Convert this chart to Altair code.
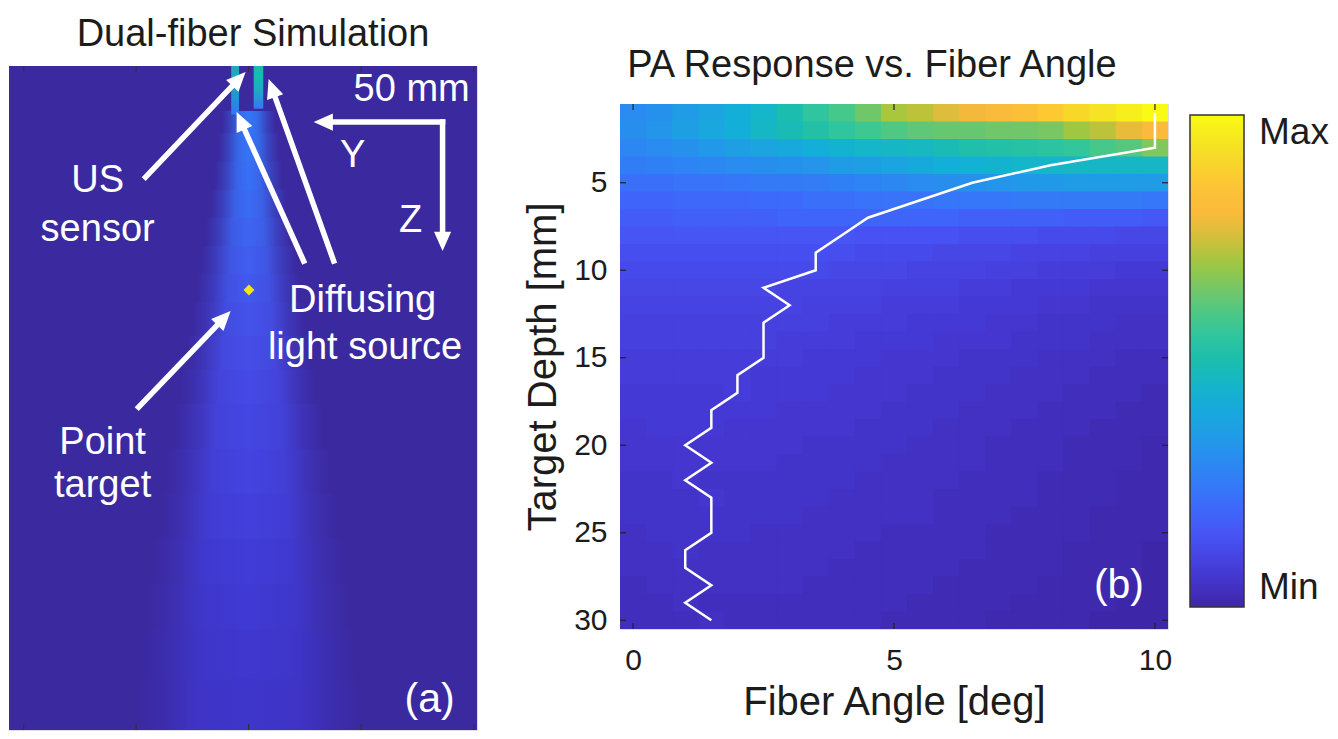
import math
import altair as alt
import pandas as pd

FONT = "Liberation Sans"
INK = "#1c1c1c"

# ---------------- panel (b): PA response vs fiber angle ----------------
fiber_angle_deg = [0, 0.5, 1, 1.5, 2, 2.5, 3, 3.5, 4, 4.5, 5, 5.5, 6, 6.5, 7, 7.5, 8, 8.5, 9, 9.5, 10]
target_depth_mm = list(range(1, 31))

# relative PA amplitude (% of max), one row per target depth, one value per fiber angle
pa_d01 = [30, 32, 35, 38, 42, 45, 50, 55, 59, 64, 71, 73, 76, 78, 80, 83, 87, 91, 94, 97, 100]
pa_d02 = [31, 33, 36, 39, 42, 46, 49, 52, 55, 58, 60, 62, 63, 63, 64, 64, 65, 70, 73, 77, 80]
pa_d03 = [29, 30, 32, 34, 36, 38, 40, 42, 44, 45, 46, 47, 49, 51, 52, 53, 54, 56, 59, 61, 66]
pa_d04 = [26, 27, 28, 29, 30, 31, 32, 33, 35, 36, 38, 40, 42, 43, 44, 45, 45, 46, 46, 46, 46]
pa_d05 = [22, 22, 23, 23, 24, 25, 25, 26, 27, 28, 29, 30, 31, 32, 33, 34, 34, 35, 35, 35, 35]
pa_d06 = [19, 19, 20, 20, 20, 21, 21, 22, 22, 23, 23, 23, 24, 24, 24, 25, 25, 25, 25, 25, 24]
pa_d07 = [17, 17, 18, 18, 18, 18, 19, 19, 19, 19, 19, 19, 19, 18, 18, 18, 18, 17, 17, 17, 16]
pa_d08 = [15, 15, 15, 15, 15, 15, 15, 15, 15, 14, 14, 14, 14, 13, 13, 13, 12, 12, 12, 11, 11]
pa_d09 = [13, 13, 13, 13, 13, 13, 13, 13, 13, 12, 12, 12, 11, 11, 11, 10, 10, 10, 9, 9, 9]
pa_d10 = [12, 12, 12, 12, 12, 12, 12, 12, 11, 11, 11, 10, 10, 10, 9, 9, 8, 8, 8, 7, 7]
pa_d11 = [11, 11, 11, 11, 11, 11, 10, 10, 10, 10, 9, 9, 9, 8, 8, 7, 7, 7, 6, 6, 6]
pa_d12 = [10, 10, 10, 10, 10, 10, 10, 9, 9, 9, 8, 8, 8, 7, 7, 7, 6, 6, 5, 5, 5]
pa_d13 = [9, 9, 9, 9, 9, 9, 9, 9, 8, 8, 8, 7, 7, 7, 6, 6, 5, 5, 5, 4, 4]
pa_d14 = [9, 9, 9, 9, 9, 9, 8, 8, 8, 7, 7, 7, 6, 6, 6, 5, 5, 5, 4, 4, 4]
pa_d15 = [8, 8, 8, 8, 8, 8, 8, 7, 7, 7, 6, 6, 6, 5, 5, 5, 4, 4, 4, 3, 3]
pa_d16 = [8, 8, 8, 8, 8, 7, 7, 7, 7, 6, 6, 6, 5, 5, 5, 4, 4, 4, 3, 3, 3]
pa_d17 = [7, 7, 7, 7, 8, 7, 7, 7, 6, 6, 6, 5, 5, 5, 4, 4, 4, 3, 3, 3, 2]
pa_d18 = [7, 7, 7, 7, 7, 7, 6, 6, 6, 6, 5, 5, 5, 4, 4, 4, 3, 3, 3, 2, 2]
pa_d19 = [6, 7, 7, 7, 6, 6, 6, 6, 6, 5, 5, 5, 4, 4, 4, 3, 3, 3, 2, 2, 2]
pa_d20 = [6, 6, 6, 6, 6, 6, 6, 5, 5, 5, 5, 4, 4, 4, 3, 3, 3, 2, 2, 2, 1]
pa_d21 = [6, 6, 6, 6, 6, 6, 5, 5, 5, 5, 4, 4, 4, 4, 3, 3, 3, 2, 2, 2, 1]
pa_d22 = [5, 5, 6, 5, 5, 5, 5, 5, 5, 4, 4, 4, 4, 3, 3, 3, 2, 2, 2, 1, 1]
pa_d23 = [5, 5, 5, 6, 5, 5, 5, 5, 4, 4, 4, 4, 3, 3, 3, 3, 2, 2, 2, 1, 1]
pa_d24 = [5, 5, 5, 5, 5, 5, 5, 4, 4, 4, 4, 4, 3, 3, 3, 2, 2, 2, 1, 1, 1]
pa_d25 = [4, 5, 5, 5, 5, 4, 4, 4, 4, 4, 3, 3, 3, 3, 2, 2, 2, 2, 1, 1, 1]
pa_d26 = [4, 4, 5, 4, 4, 4, 4, 4, 4, 3, 3, 3, 3, 3, 2, 2, 2, 1, 1, 1, 0]
pa_d27 = [4, 4, 4, 4, 4, 4, 4, 4, 3, 3, 3, 3, 3, 2, 2, 2, 2, 1, 1, 1, 0]
pa_d28 = [3, 4, 4, 4, 4, 4, 4, 3, 3, 3, 3, 3, 2, 2, 2, 2, 1, 1, 1, 0, 0]
pa_d29 = [3, 3, 4, 3, 3, 3, 3, 3, 3, 3, 3, 2, 2, 2, 2, 1, 1, 1, 1, 0, 0]
pa_d30 = [3, 3, 3, 4, 3, 3, 3, 3, 3, 3, 2, 2, 2, 2, 1, 1, 1, 1, 0, 0, 0]
pa_rows = [pa_d01, pa_d02, pa_d03, pa_d04, pa_d05, pa_d06, pa_d07, pa_d08, pa_d09, pa_d10,
           pa_d11, pa_d12, pa_d13, pa_d14, pa_d15, pa_d16, pa_d17, pa_d18, pa_d19, pa_d20,
           pa_d21, pa_d22, pa_d23, pa_d24, pa_d25, pa_d26, pa_d27, pa_d28, pa_d29, pa_d30]

# optimal fiber angle for each depth (white line)
best_angle_deg = [10, 10, 10, 8, 6.5, 5.5, 4.5, 4, 3.5, 3.5, 2.5, 3, 2.5, 2.5, 2.5,
                  2, 2, 1.5, 1.5, 1, 1.5, 1, 1.5, 1.5, 1.5, 1, 1, 1.5, 1, 1.5]

x_tick_values = [0, 5, 10]
y_tick_values = [5, 10, 15, 20, 25, 30]

# parula-like colormap (position in %, colour)
parula_pos = [0, 7, 14.3, 21.4, 28.6, 35.7, 42.9, 50, 57.1, 64.3, 71.4, 78.6, 85.7, 92.9, 100]
parula_col = ["#3e26a8", "#4539d6", "#4852f4", "#3b6dfb", "#2d86f3", "#1f9ee5", "#12b1d6",
              "#1bbdae", "#37c897", "#72c768", "#abc739", "#f9b73c", "#fdc436", "#f5df25", "#f9fb15"]

# ---------------- panel (a): simulation picture ----------------
BG = "#3b299f"
XA_MIN, XA_MAX = -21.3, 20.3   # lateral position [mm]
ZA_MIN, ZA_MAX = 0, 59         # depth [mm]

beam_top_mm = [4.0, 6.0, 8.5, 11, 13.5, 16, 18.5, 21, 24, 27, 30, 34, 38, 42, 46, 50, 54.5]
beam_bottom_mm = [6.0, 8.5, 11, 13.5, 16, 18.5, 21, 24, 27, 30, 34, 38, 42, 46, 50, 54.5, 59]
beam_inner_hw_mm = [0.8, 0.9, 1.0, 1.2, 1.4, 1.6, 1.8, 2.0, 2.3, 2.6, 2.9, 3.2, 3.5, 3.8, 4.1, 4.4, 4.7]
beam_outer_hw_mm = [2.4, 2.7, 3.0, 3.4, 3.8, 4.2, 4.6, 5.0, 5.5, 6.0, 6.6, 7.2, 7.8, 8.4, 9.0, 9.5, 10.0]
beam_core_color = ["#3476f6", "#3574f6", "#3770f6", "#3a6bf4", "#3d65f2", "#405ef0", "#4258ee",
                   "#4452eb", "#454de8", "#4549e6", "#4446e3", "#4343e0", "#423fdc", "#413cd8",
                   "#4039d3", "#3f37cf", "#3e35cb"]

fiber_left_mm = [-1.55, 0.45]
fiber_right_mm = [-0.85, 1.3]
fiber_end_mm = [4.3, 3.8]
fiber_colors = [["#1eaab6", "#1f98d2", "#3476f6"], ["#16bcae", "#1fa8c6", "#3476f6"]]

arrow_tail_x = [-9.16, 4.89, 7.56, 17.24, 17.24, -9.78]
arrow_tail_z = [9.87, 17.33, 17.33, 4.98, 4.98, 30.31]
arrow_tip_x = [-0.27, -1.07, 1.78, 5.78, 17.24, -1.60]
arrow_tip_z = [0.53, 4.09, 1.16, 4.98, 16.44, 21.78]

label_text = ["50 mm", "Y", "Z", "US", "sensor", "Diffusing", "light source", "Point", "target", "(a)"]
label_x = [14.49, 9.24, 14.40, -13.42, -13.42, 10.13, 10.35, -12.98, -12.98, 16.09]
label_z = [3.11, 8.98, 14.76, 11.2, 15.56, 21.87, 26.04, 34.49, 38.31, 57.4]
label_size = [38, 38, 38, 38, 38, 38, 38, 38, 38, 41]

target_x = [0.03]
target_z = [19.9]

a_tick_values = [-20, -10, 0, 10, 20]

# ---------------- sizes ----------------
WA, HA = 468, 664
WB, HB = 548, 525


def mix(c1, c2, f):
    a = [int(c1[i:i + 2], 16) for i in (1, 3, 5)]
    b = [int(c2[i:i + 2], 16) for i in (1, 3, 5)]
    return "#%02x%02x%02x" % tuple(round(a[k] * f + b[k] * (1 - f)) for k in range(3))


XA = alt.Scale(domain=[XA_MIN, XA_MAX], nice=False, zero=False)
ZA = alt.Scale(domain=[ZA_MIN, ZA_MAX], nice=False, zero=False, reverse=True)
SPAN = XA_MAX - XA_MIN
C0 = (0 - XA_MIN) / SPAN


def rect_layer(x0, x1, z0, z1, fill):
    df = pd.DataFrame({"x0": [x0], "x1": [x1], "z0": [z0], "z1": [z1]})
    return alt.Chart(df).mark_rect(color=fill).encode(
        x=alt.X("x0:Q", scale=XA, axis=None), x2="x1:Q",
        y=alt.Y("z0:Q", scale=ZA, axis=None), y2="z1:Q")


a_layers = [rect_layer(XA_MIN, XA_MAX, ZA_MIN, ZA_MAX, BG)]
for zt, zb, hi, ho, core in zip(beam_top_mm, beam_bottom_mm, beam_inner_hw_mm, beam_outer_hw_mm, beam_core_color):
    i, o, m = hi / SPAN, ho / SPAN, (hi + ho) / 2 / SPAN
    stops = [(0, BG), (C0 - o, BG), (C0 - m, mix(core, BG, 0.35)), (C0 - i, mix(core, BG, 0.85)),
             (C0, core), (C0 + i, mix(core, BG, 0.85)), (C0 + m, mix(core, BG, 0.35)), (C0 + o, BG), (1, BG)]
    grad = alt.LinearGradient(gradient="linear", x1=0, x2=1, y1=0, y2=0,
                              stops=[alt.GradientStop(color=c, offset=off) for off, c in stops])
    a_layers.append(rect_layer(XA_MIN, XA_MAX, zt, min(zb + 0.15, ZA_MAX), grad))

for xl, xr, ze, cols in zip(fiber_left_mm, fiber_right_mm, fiber_end_mm, fiber_colors):
    grad = alt.LinearGradient(gradient="linear", x1=0, x2=0, y1=0, y2=1,
                              stops=[alt.GradientStop(color=cols[0], offset=0),
                                     alt.GradientStop(color=cols[0], offset=0.25),
                                     alt.GradientStop(color=cols[1], offset=0.6),
                                     alt.GradientStop(color=cols[2], offset=1)])
    a_layers.append(rect_layer(xl, xr, ZA_MIN, ze, grad))

# inward ticks (top & bottom)
tick_a = pd.DataFrame({"v": a_tick_values})
for y0, y1 in [(0, 6), (HA, HA - 6)]:
    a_layers.append(alt.Chart(tick_a).mark_rule(color="#333333", strokeWidth=1.2).encode(
        x=alt.X("v:Q", scale=XA, axis=None), y=alt.value(y0), y2=alt.value(y1)))

# arrows
SX = WA / SPAN
SZ = HA / (ZA_MAX - ZA_MIN)
HEAD_BACK = 11.0
shaft_rows, head_rows = [], []
for tx, tz, hx, hz in zip(arrow_tail_x, arrow_tail_z, arrow_tip_x, arrow_tip_z):
    dxp, dyp = (hx - tx) * SX, (hz - tz) * SZ
    L = math.hypot(dxp, dyp)
    ux, uy = dxp / L, dyp / L
    cx, cz = hx - ux * HEAD_BACK / SX, hz - uy * HEAD_BACK / SZ
    ang = (math.degrees(math.atan2(ux, -uy)) + 360) % 360
    shaft_rows.append({"x0": tx, "z0": tz, "x1": cx, "z1": cz})
    head_rows.append({"x": cx, "z": cz, "ang": ang})

a_layers.append(alt.Chart(pd.DataFrame(shaft_rows)).mark_rule(
    color="white", strokeWidth=5.5, strokeCap="square").encode(
    x=alt.X("x0:Q", scale=XA, axis=None), y=alt.Y("z0:Q", scale=ZA, axis=None),
    x2="x1:Q", y2="z1:Q"))
a_layers.append(alt.Chart(pd.DataFrame(head_rows)).mark_point(
    shape="M0,-1L0.78,0.75L-0.78,0.75Z", filled=True, color="white", opacity=1,
    size=484, strokeWidth=0).encode(
    x=alt.X("x:Q", scale=XA, axis=None), y=alt.Y("z:Q", scale=ZA, axis=None),
    angle=alt.Angle("ang:Q", scale=None)))

# point target
a_layers.append(alt.Chart(pd.DataFrame({"x": target_x, "z": target_z})).mark_point(
    shape="diamond", filled=True, color="#f4e41c", opacity=1, size=120, strokeWidth=0).encode(
    x=alt.X("x:Q", scale=XA, axis=None), y=alt.Y("z:Q", scale=ZA, axis=None)))

# labels
a_layers.append(alt.Chart(pd.DataFrame({"t": label_text, "x": label_x, "z": label_z, "s": label_size})).mark_text(
    color="white", font=FONT, align="center", baseline="alphabetic").encode(
    x=alt.X("x:Q", scale=XA, axis=None), y=alt.Y("z:Q", scale=ZA, axis=None),
    text="t:N", size=alt.Size("s:Q", scale=None)))

panel_a = alt.layer(*a_layers).properties(
    width=WA, height=HA,
    title=alt.TitleParams("Dual-fiber Simulation", fontSize=38, font=FONT, fontWeight="normal",
                          color=INK, offset=11, dx=10))

# ---------------- panel (b) ----------------
heat_rows = []
for d, row in zip(target_depth_mm, pa_rows):
    for a, v in zip(fiber_angle_deg, row):
        heat_rows.append({"angle": a, "depth": d, "pa": v})
df_heat = pd.DataFrame(heat_rows)
df_line = pd.DataFrame({"angle": best_angle_deg, "depth": target_depth_mm})

XB = alt.Scale(domain=[-0.25, 10.25], nice=False, zero=False)
YB = alt.Scale(domain=[0.5, 30.5], nice=False, zero=False, reverse=True)
CB = alt.Scale(domain=parula_pos, range=parula_col, interpolate="rgb")

axis_x = alt.Axis(values=x_tick_values, title="Fiber Angle [deg]", format="d", grid=False, ticks=False,
                  domain=False, labelFontSize=30, titleFontSize=40, labelFont=FONT, titleFont=FONT,
                  labelColor=INK, titleColor=INK, titleFontWeight="normal", labelPadding=16,
                  titlePadding=7, labelFlush=False)
axis_y = alt.Axis(values=y_tick_values, title="Target Depth [mm]", format="d", grid=False, ticks=False,
                  domain=False, labelFontSize=30, titleFontSize=40, labelFont=FONT, titleFont=FONT,
                  labelColor=INK, titleColor=INK, titleFontWeight="normal", labelPadding=13,
                  titlePadding=10, labelFlush=False)

legend = alt.Legend(orient="none", legendX=1181, legendY=49, title=None, values=[0, 100],
                    labelExpr="datum.value >= 100 ? 'Max' : 'Min'", direction="vertical",
                    gradientLength=492, gradientThickness=54, gradientStrokeColor="#333333",
                    gradientStrokeWidth=1.5, labelFontSize=37, labelFont=FONT, labelColor=INK,
                    labelOffset=15, labelOverlap=False, padding=0)

heat = alt.Chart(df_heat).transform_calculate(
    a0="datum.angle - 0.25", a1="datum.angle + 0.27",
    d0="datum.depth - 0.5", d1="datum.depth + 0.53").mark_rect(clip=True).encode(
    x=alt.X("a0:Q", scale=XB, axis=axis_x), x2="a1:Q",
    y=alt.Y("d0:Q", scale=YB, axis=axis_y), y2="d1:Q",
    color=alt.Color("pa:Q", scale=CB, legend=legend))

line = alt.Chart(df_line).mark_line(color="white", strokeWidth=2.5).encode(
    x=alt.X("angle:Q", scale=XB, axis=axis_x), y=alt.Y("depth:Q", scale=YB, axis=axis_y),
    order="depth:Q")

b_layers = [heat, line]
tick_bx = pd.DataFrame({"v": x_tick_values})
tick_by = pd.DataFrame({"v": y_tick_values})
for y0, y1 in [(0, 6), (HB, HB - 6)]:
    b_layers.append(alt.Chart(tick_bx).mark_rule(color="#222222", strokeWidth=1.2).encode(
        x=alt.X("v:Q", scale=XB, axis=axis_x), y=alt.value(y0), y2=alt.value(y1)))
for x0, x1 in [(0, 6), (WB, WB - 6)]:
    b_layers.append(alt.Chart(tick_by).mark_rule(color="#222222", strokeWidth=1.2).encode(
        y=alt.Y("v:Q", scale=YB, axis=axis_y), x=alt.value(x0), x2=alt.value(x1)))

b_layers.append(alt.Chart(pd.DataFrame({"t": ["(b)"], "x": [9.31], "y": [28.75]})).mark_text(
    color="white", font=FONT, fontSize=41, align="center", baseline="alphabetic").encode(
    x=alt.X("x:Q", scale=XB, axis=axis_x), y=alt.Y("y:Q", scale=YB, axis=axis_y), text="t:N"))

panel_b = alt.layer(*b_layers).properties(width=WB, height=HB)

title_b = alt.Chart(pd.DataFrame({"t": ["PA Response vs. Fiber Angle"]})).mark_text(
    font=FONT, fontSize=38, color=INK, align="center", baseline="middle").encode(
    x=alt.value(252), y=alt.value(0), text="t:N").properties(
    width=WB, height=35, view=alt.ViewBackground(stroke="transparent"))

chart = alt.hconcat(
    panel_a,
    alt.vconcat(title_b, panel_b, spacing=0),
    spacing=45,
).properties(
    padding={"left": 0, "top": 7, "right": 0, "bottom": 0}
).configure_view(stroke="#3a3a3a", strokeWidth=1.2).configure(font=FONT)

chart.save("out.html", embed_options={"renderer": "svg", "actions": False})
